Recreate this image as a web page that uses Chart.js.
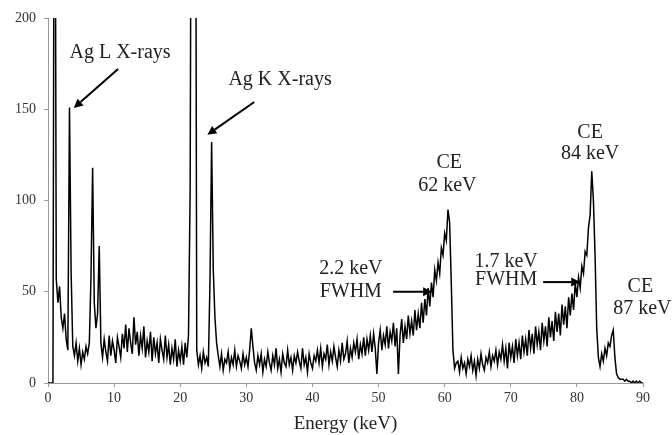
<!DOCTYPE html>
<html>
<head>
<meta charset="utf-8">
<script src="https://cdn.jsdelivr.net/npm/chart.js@4"></script>
<style>
  html, body { margin: 0; padding: 0; background: #fff; }
  #wrap { width: 672px; height: 435px; }
</style>
</head>
<body>
<div id="wrap"><canvas id="myChart"></canvas></div>
<script>
// spectrum, one value every 0.25 keV starting at 0 keV (4 values per row = 1 keV)
var energyStep = 0.25;
var counts = [
  0, 0, 0, 0,          // 0
  420, 57, 44, 53,     // 1
  36, 30, 38, 24,      // 2
  18, 151, 60, 20,     // 3
  15, 22, 12, 19,      // 4
  10, 17, 13, 20,      // 5
  16, 22, 58, 118,     // 6
  44, 30, 38, 75,      // 7
  22, 14, 24, 17,      // 8
  12, 26, 15, 23,      // 9
  18, 11, 25, 20,      // 10
  14, 27, 19, 32,      // 11
  17, 30, 22, 16,      // 12
  36, 21, 28, 15,      // 13
  26, 19, 31, 14,      // 14
  23, 17, 28, 12,      // 15
  25, 16, 22, 11,      // 16
  24, 18, 13, 26,      // 17
  14, 21, 10, 19,      // 18
  13, 24, 9, 18,       // 19
  12, 20, 10, 22,      // 20
  14, 26, 105, 420,    // 21
  500, 450, 18, 10,    // 22
  15, 8, 17, 11,       // 23
  14, 9, 55, 132,      // 24
  62, 36, 22, 15,      // 25
  9, 16, 7, 13,        // 26
  11, 17, 8, 14,       // 27
  10, 18, 9, 15,       // 28
  12, 8, 16, 10,       // 29
  14, 9, 18, 30,       // 30
  20, 11, 7, 15,       // 31
  10, 16, 6, 13,       // 32
  9, 17, 11, 7,        // 33
  15, 10, 19, 8,       // 34
  13, 6, 16, 11,       // 35
  9, 18, 10, 14,       // 36
  7, 15, 11, 17,       // 37
  12, 8, 19, 10,       // 38
  14, 6, 16, 11,       // 39
  8, 15, 12, 18,       // 40
  11, 19, 9, 16,       // 41
  13, 21, 10, 17,      // 42
  12, 20, 14, 9,       // 43
  18, 12, 22, 13,      // 44
  16, 23, 11, 19,      // 45
  14, 22, 17, 24,      // 46
  13, 21, 16, 25,      // 47
  15, 24, 18, 26,      // 48
  17, 27, 19, 5,       // 49
  22, 29, 18, 26,      // 50
  21, 31, 19, 28,      // 51
  23, 33, 20, 30,      // 52
  5, 26, 35, 22,       // 53
  31, 24, 37, 27,      // 54
  34, 26, 40, 29,      // 55
  38, 30, 44, 33,      // 56
  46, 37, 52, 42,      // 57
  55, 47, 62, 56,      // 58
  66, 60, 74, 70,      // 59
  82, 78, 95, 88,      // 60
  55, 18, 8, 11,       // 61
  12, 6, 14, 8,        // 62
  11, 5, 13, 9,        // 63
  15, 7, 12, 4,        // 64
  13, 8, 16, 10,       // 65
  7, 14, 11, 17,       // 66
  9, 15, 12, 18,       // 67
  10, 17, 13, 21,      // 68
  12, 19, 8, 22,       // 69
  14, 20, 11, 24,      // 70
  15, 22, 13, 26,      // 71
  17, 24, 15, 29,      // 72
  19, 27, 16, 31,      // 73
  21, 28, 18, 33,      // 74
  23, 31, 20, 36,      // 75
  25, 34, 23, 39,      // 76
  28, 38, 26, 43,      // 77
  32, 42, 30, 47,      // 78
  37, 49, 40, 55,      // 79
  47, 58, 52, 64,      // 80
  60, 72, 70, 85,      // 81
  92, 116, 100, 70,    // 82
  30, 14, 9, 16,       // 83
  12, 19, 15, 22,      // 84
  20, 26, 29, 14,      // 85
  5, 3, 2, 2,          // 86
  2, 1, 2, 1,          // 87
  1, 0, 1, 0,          // 88
  1, 0, 1, 0,          // 89
  0                    // 90
];

var xTicks = [0, 10, 20, 30, 40, 50, 60, 70, 80, 90];
var yTicks = [0, 50, 100, 150, 200];

// annotation texts in data units [keV, counts]
var noteTexts = ["Ag L X-rays", "Ag K X-rays", "CE", "62 keV", "2.2 keV", "FWHM", "1.7 keV", "FWHM", "CE", "84 keV", "CE", "87 keV"];
var noteX = [10.9, 35.1, 60.7, 60.4, 45.8, 45.8, 69.3, 69.3, 82, 82, 89.6, 89.9];
var noteY = [181, 166, 120.5, 108, 62.5, 50, 66.3, 56.4, 137, 125.5, 52.6, 40.5];
// arrows: from [x,y] to [x,y]
var arrowFrom = [[10.6, 172], [31.2, 154], [52.2, 50], [74.9, 55.3]];
var arrowTo = [[3.9, 150.7], [24.1, 136], [58.1, 50], [80.5, 55.3]];

var serif = "'Liberation Serif', 'Times New Roman', serif";

var points = counts.map(function (c, i) { return { x: i * energyStep, y: c }; });

var notesPlugin = {
  id: 'notes',
  afterDatasetsDraw: function (chart) {
    var ctx = chart.ctx;
    var xs = chart.scales.x, ys = chart.scales.y;
    ctx.save();
    ctx.fillStyle = '#222';
    ctx.font = '20px ' + serif;
    ctx.textAlign = 'center';
    ctx.textBaseline = 'middle';
    for (var i = 0; i < noteTexts.length; i++) {
      ctx.fillText(noteTexts[i], xs.getPixelForValue(noteX[i]), ys.getPixelForValue(noteY[i]));
    }
    ctx.strokeStyle = '#000';
    ctx.fillStyle = '#000';
    ctx.lineWidth = 2;
    for (var j = 0; j < arrowFrom.length; j++) {
      var x1 = xs.getPixelForValue(arrowFrom[j][0]), y1 = ys.getPixelForValue(arrowFrom[j][1]);
      var x2 = xs.getPixelForValue(arrowTo[j][0]), y2 = ys.getPixelForValue(arrowTo[j][1]);
      var a = Math.atan2(y2 - y1, x2 - x1);
      var hl = 9, hw = 4.5;
      var bx = x2 - hl * Math.cos(a), by = y2 - hl * Math.sin(a);
      ctx.beginPath();
      ctx.moveTo(x1, y1);
      ctx.lineTo(bx, by);
      ctx.stroke();
      ctx.beginPath();
      ctx.moveTo(x2, y2);
      ctx.lineTo(bx + hw * Math.sin(a), by - hw * Math.cos(a));
      ctx.lineTo(bx - hw * Math.sin(a), by + hw * Math.cos(a));
      ctx.closePath();
      ctx.fill();
    }
    ctx.restore();
  }
};

var ctx = document.getElementById('myChart').getContext('2d');
var chart = new Chart(ctx, {
  type: 'line',
  data: {
    datasets: [{
      data: points,
      borderColor: '#000',
      borderWidth: 1.5,
      pointRadius: 0,
      tension: 0,
      fill: false
    }]
  },
  options: {
    responsive: true,
    maintainAspectRatio: false,
    animation: false,
    events: [],
    layout: { padding: { top: 18, right: 29, left: 0, bottom: 0 } },
    plugins: { legend: { display: false }, tooltip: { enabled: false } },
    scales: {
      x: {
        type: 'linear',
        min: 0, max: 90,
        afterBuildTicks: function (s) { s.ticks = xTicks.map(function (v) { return { value: v }; }); },
        afterFit: function (s) { s.height = 52; },
        grid: { drawOnChartArea: false, drawTicks: true, tickLength: 4, color: '#999' },
        border: { color: '#999' },
        ticks: { color: '#333', font: { family: serif, size: 14 }, padding: 3, maxRotation: 0 },
        title: { display: true, text: 'Energy (keV)', color: '#222', font: { family: serif, size: 19 }, padding: { top: 6, bottom: 0 } }
      },
      y: {
        min: 0, max: 200,
        afterBuildTicks: function (s) { s.ticks = yTicks.map(function (v) { return { value: v }; }); },
        afterFit: function (s) { s.width = 48; },
        grid: { drawOnChartArea: false, drawTicks: true, tickLength: 4, color: '#999' },
        border: { color: '#999' },
        ticks: { color: '#333', font: { family: serif, size: 14 }, padding: 8 }
      }
    }
  },
  plugins: [notesPlugin]
});
</script>
</body>
</html>
